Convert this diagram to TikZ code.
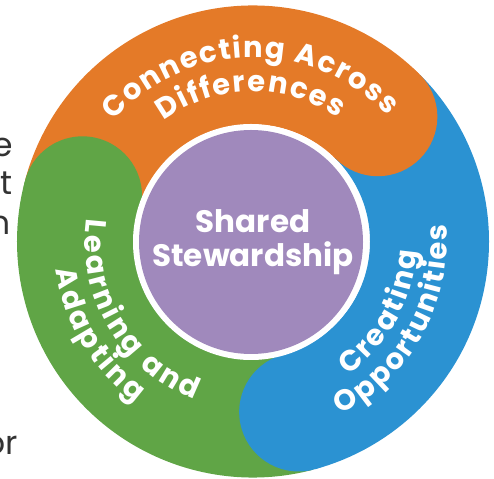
\documentclass[tikz,border=0pt]{standalone}
\usepackage{fontspec}
\setmainfont{Poppins}
\usetikzlibrary{calc,decorations.text}
\definecolor{corange}{HTML}{E47A28}
\definecolor{cblue}{HTML}{2B92D2}
\definecolor{cgreen}{HTML}{60A546}
\definecolor{cpurple}{HTML}{A089BC}
\definecolor{cgray}{HTML}{333333}
\newcommand\curvefont{\bfseries\fontsize{29}{29}\selectfont}
\begin{document}
\begin{tikzpicture}[x=1pt,y=1pt,
  band/.style={line width=119pt},
  curved/.style 2 args={decorate, decoration={text effects along path, text align=center, text={#1},
     text effects/.cd, text along path,
     character widths={inner xsep=#2, inner ysep=0pt, font=\curvefont},
     characters={text=white, inner ysep=0pt, font=\curvefont}}},
  sidetext/.style={anchor=base east, inner sep=0pt, text=cgray, font=\fontsize{33}{40}\selectfont},
  centertext/.style={anchor=base, inner sep=0pt, text=white, font=\bfseries\fontsize{31}{34}\selectfont}
]
\useasboundingbox (0,0) rectangle (494,478);
\clip (0,0) rectangle (494,478);
\coordinate (c) at (253,236.5);
\coordinate (pc) at (251,236);
% bands
\draw[band, corange] ($(c)+(165:176.5)$) arc[start angle=165, end angle=45, radius=176.5];
\draw[band, cblue] ($(c)+(45:176.5)$) arc[start angle=45, end angle=-75, radius=176.5];
\draw[band, cgreen] ($(c)+(-75:176.5)$) arc[start angle=-75, end angle=-195, radius=176.5];
% rounded heads
\fill[corange] ($(c)+(45:176.5)$) circle[radius=59.5];
\fill[cblue] ($(c)+(-75:176.5)$) circle[radius=59.5];
\fill[cgreen] ($(c)+(165:176.5)$) circle[radius=59.5];
% centre
\fill[white] (pc) circle[radius=118];
\fill[cpurple] (pc) circle[radius=112];
\node[centertext] (shared) at (253,245) {Shared};
\node[centertext] (stew) at (253,211) {Stewardship};
% curved labels
\path[curved={Connecting Across}{0.8pt}]
  ($(c)+(151:184)$) arc[start angle=151, end angle=31, radius=184];
\path[curved={Differences}{0.8pt}]
  ($(c)+(151:150)$) arc[start angle=151, end angle=31, radius=150];
\path[curved={Creating}{1.1pt}]
  ($(c)+(-89:164)$) arc[start angle=-89, end angle=31, radius=164];
\path[curved={Opportunities}{1.0pt}]
  ($(c)+(-89:194)$) arc[start angle=-89, end angle=31, radius=194];
\path[curved={Learning and}{1.4pt}]
  ($(c)+(151:168)$) arc[start angle=151, end angle=271, radius=168];
\path[curved={Adapting}{1.4pt}]
  ($(c)+(151:199)$) arc[start angle=151, end angle=271, radius=199];
% cut-off side text
\node[sidetext] (t1) at (13.5,321) {e};
\node[sidetext] (t2) at (13,283) {t};
\node[sidetext] (t3) at (11,243) {n};
\node[sidetext] (t4) at (18.5,23) {or};
\end{tikzpicture}
\end{document}
